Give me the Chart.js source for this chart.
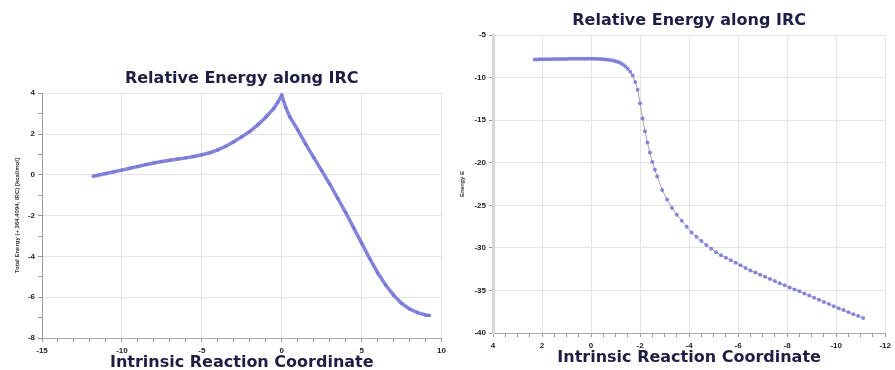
<!DOCTYPE html>
<html>
<head>
<meta charset="utf-8">
<script src="https://cdn.jsdelivr.net/npm/chart.js@4"></script>
<style>
  body { margin: 0; background: #fff; width: 895px; height: 370px; overflow: hidden; position: relative; }
  canvas { position: absolute; }
  #leftChart { left: 0; top: 60px; }
  #rightChart { left: 450px; top: 0; }
</style>
</head>
<body>
<canvas id="leftChart" width="450" height="312"></canvas>
<canvas id="rightChart" width="445" height="367"></canvas>
<script>
// IRC run 1 (through the transition state at 0)
const leftX = [-11.8, -11.5, -11, -10.5, -10, -9.5, -9, -8.5, -8, -7.5, -7, -6.5, -6, -5.5, -5,
  -4.5, -4, -3.5, -3, -2.5, -2, -1.5, -1, -0.5, -0.25, 0, 0.25, 0.5, 1, 1.5, 2, 2.5, 3, 3.5,
  4, 4.5, 5, 5.5, 6, 6.5, 7, 7.5, 8, 8.5, 9, 9.25];
const leftY = [-0.07, -0.02, 0.06, 0.15, 0.23, 0.32, 0.41, 0.5, 0.58, 0.65, 0.71, 0.77, 0.83, 0.9, 0.98,
  1.08, 1.22, 1.4, 1.62, 1.86, 2.12, 2.45, 2.82, 3.25, 3.55, 3.9, 3.3, 2.85, 2.2, 1.5, 0.85, 0.2, -0.45, -1.15,
  -1.85, -2.6, -3.35, -4.1, -4.8, -5.4, -5.9, -6.3, -6.58, -6.76, -6.87, -6.9];

// IRC run 2
const rightX = [2.3, 2.2, 2.1, 2.0, 1.9, 1.8, 1.7, 1.6, 1.5, 1.4, 1.3, 1.2, 1.1, 1.0, 0.9, 0.8,
  0.7, 0.6, 0.5, 0.4, 0.3, 0.2, 0.1, 0, -0.1, -0.2, -0.3, -0.4, -0.5, -0.6, -0.7, -0.8,
  -0.9, -1.0, -1.1, -1.2, -1.3, -1.4, -1.5, -1.6, -1.7, -1.8, -1.9,
  -2.0, -2.1, -2.2, -2.3, -2.4, -2.5, -2.6, -2.7, -2.9, -3.1, -3.3, -3.5, -3.7, -3.9,
  -4.1, -4.3, -4.5, -4.7, -4.9, -5.1, -5.3, -5.5, -5.7, -5.9, -6.1, -6.3, -6.5, -6.7, -6.9, -7.1,
  -7.3, -7.5, -7.7, -7.9, -8.1, -8.3, -8.5, -8.7, -8.9, -9.1, -9.3, -9.5, -9.7, -9.9, -10.1, -10.3,
  -10.5, -10.7, -10.9, -11.1];
const rightY = [-7.85, -7.85, -7.84, -7.84, -7.83, -7.83, -7.82, -7.82, -7.81, -7.81, -7.8, -7.8, -7.79, -7.79, -7.78, -7.78,
  -7.77, -7.77, -7.76, -7.76, -7.76, -7.76, -7.76, -7.76, -7.77, -7.78, -7.79, -7.8, -7.82, -7.85, -7.88, -7.93,
  -7.98, -8.06, -8.15, -8.28, -8.45, -8.68, -8.95, -9.3, -9.75, -10.5, -11.4,
  -13.0, -14.8, -16.3, -17.6, -18.8, -19.9, -20.8, -21.6, -23.2, -24.3, -25.3, -26.1, -26.8, -27.5,
  -28.2, -28.7, -29.2, -29.65, -30.1, -30.5, -30.85, -31.15, -31.45, -31.75, -32.05, -32.35, -32.65, -32.9, -33.15, -33.4,
  -33.65, -33.9, -34.15, -34.4, -34.65, -34.9, -35.1, -35.35, -35.6, -35.85, -36.1, -36.35, -36.6, -36.85, -37.1, -37.3,
  -37.55, -37.8, -38.0, -38.25];

const chartTitle = 'Relative Energy along IRC';
const xTitle = 'Intrinsic Reaction Coordinate';
const leftYTitle = 'Total Energy (+ 364.4094, IRC) [kcal/mol]';
const rightYTitle = 'Energy E';

Chart.defaults.font.family = '"Liberation Sans", Arial, sans-serif';
Chart.defaults.animation = false;

const titleColor = '#1e1e45';
const titleFont = { family: '"DejaVu Sans", Verdana, sans-serif', size: 16, weight: 'bold' };
const tickFont = { size: 8, weight: 'bold' };
const multipleOf = (v, m) => Math.abs(v / m - Math.round(v / m)) < 1e-6;

function makeChart(id, xs, ys, o) {
  const pts = xs.map((x, i) => ({ x: x, y: ys[i] }));
  new Chart(document.getElementById(id), {
    type: 'scatter',
    data: {
      datasets: [{
        data: pts,
        showLine: true,
        borderColor: o.lineColor,
        borderWidth: o.lineWidth,
        pointRadius: o.pointRadius,
        pointBackgroundColor: 'rgba(118,118,214,0.85)',
        pointBorderWidth: 0
      }]
    },
    options: {
      responsive: false,
      layout: { padding: { left: 0, right: o.padRight, top: 0, bottom: 0 } },
      plugins: {
        legend: { display: false },
        tooltip: { enabled: false },
        title: {
          display: true,
          text: chartTitle,
          fullSize: false,
          color: titleColor,
          font: titleFont,
          padding: { top: o.titleTop, bottom: o.titleBottom }
        }
      },
      scales: {
        x: {
          type: 'linear',
          min: o.xMin, max: o.xMax, reverse: o.xReverse,
          afterFit: s => { s.height = o.xHeight; },
          grid: {
            color: c => multipleOf(c.tick.value, o.xMajor) ? '#e4e4e4' : 'rgba(0,0,0,0)',
            tickColor: '#999',
            tickLength: 4
          },
          border: { color: '#aaa' },
          ticks: {
            stepSize: o.xMinor, autoSkip: false, maxRotation: 0, padding: 4,
            color: '#222', font: tickFont,
            callback: v => multipleOf(v, o.xMajor) ? v : ''
          },
          title: { display: true, text: xTitle, color: titleColor, font: titleFont, padding: 0 }
        },
        y: {
          min: o.yMin, max: o.yMax,
          afterFit: s => { s.width = o.yWidth; },
          grid: {
            color: c => multipleOf(c.tick.value, o.yMajor) ? '#e4e4e4' : 'rgba(0,0,0,0)',
            tickColor: '#999',
            tickLength: 4
          },
          border: { color: o.yBorder, width: o.yBorderWidth },
          ticks: {
            stepSize: o.yMinor, autoSkip: false, padding: 3,
            color: '#222', font: tickFont,
            callback: v => multipleOf(v, o.yMajor) ? v : ''
          },
          title: { display: true, text: o.yTitle, color: '#333', font: { size: 6, weight: 'bold' }, padding: { top: o.yTitlePad, bottom: 0 } }
        }
      }
    }
  });
}

makeChart('leftChart', leftX, leftY, {
  lineColor: 'rgba(118,118,214,0.9)', lineWidth: 3.5, pointRadius: 1.8,
  padRight: 8, titleTop: 9, titleBottom: 5, xHeight: 34, yWidth: 42,
  xMin: -15, xMax: 10, xReverse: false, xMajor: 5, xMinor: 1,
  yMin: -8, yMax: 4, yMajor: 2, yMinor: 1,
  yBorder: '#999', yBorderWidth: 1, yTitle: leftYTitle, yTitlePad: 14
});

makeChart('rightChart', rightX, rightY, {
  lineColor: '#a4a4b4', lineWidth: 1, pointRadius: 2,
  padRight: 5, titleTop: 11, titleBottom: 5, xHeight: 34, yWidth: 43,
  xMin: -12, xMax: 4, xReverse: true, xMajor: 2, xMinor: 0.5,
  yMin: -40, yMax: -5, yMajor: 5, yMinor: 5,
  yBorder: '#d8d8d8', yBorderWidth: 3, yTitle: rightYTitle, yTitlePad: 9
});
</script>
</body>
</html>
